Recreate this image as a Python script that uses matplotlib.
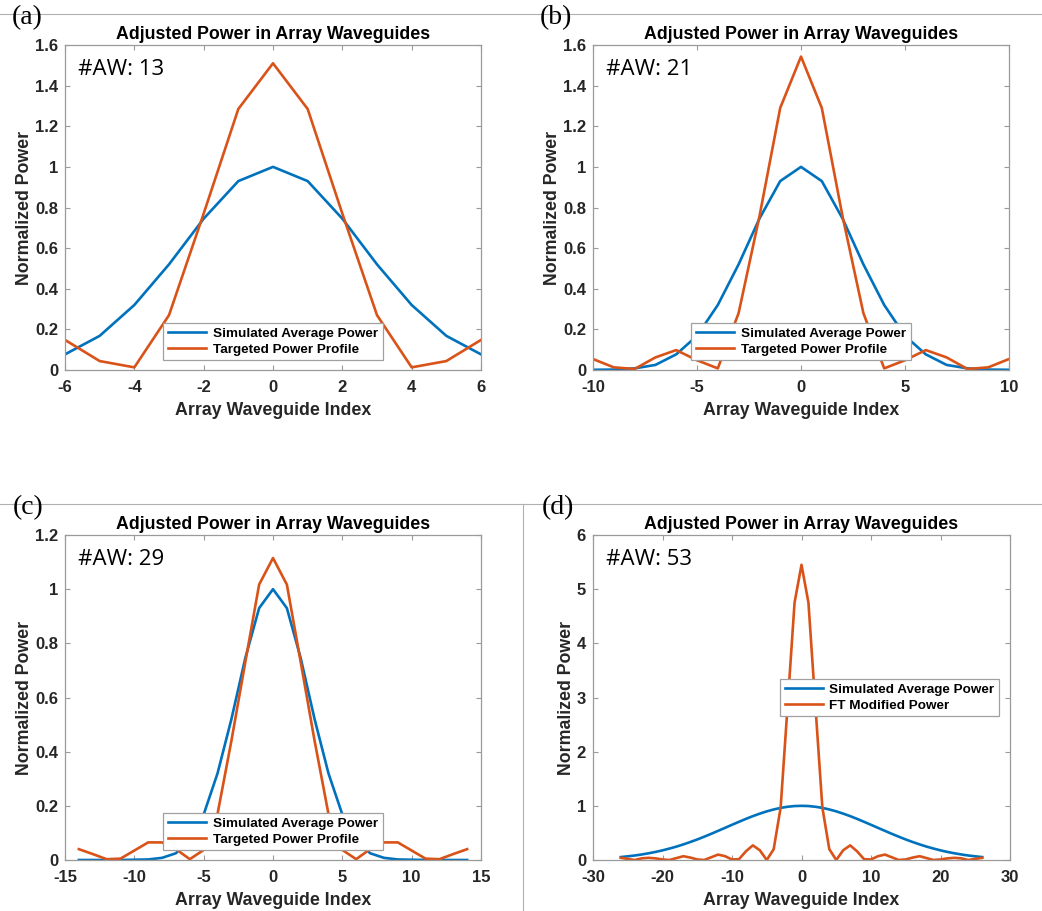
import matplotlib
matplotlib.use("Agg")
import matplotlib.pyplot as plt
from matplotlib.lines import Line2D
from matplotlib.ticker import FuncFormatter

plt.rcParams['font.family'] = ['Liberation Sans', 'DejaVu Sans']
plt.rcParams['axes.unicode_minus'] = False

# ---------------- data ----------------
# (a) 13 waveguides
idx_a = list(range(-6, 7))
sim_a = [0.077, 0.168, 0.32, 0.52, 0.745, 0.93, 1.0, 0.93, 0.745, 0.52, 0.32, 0.168, 0.077]
tgt_a = [0.148, 0.044, 0.013, 0.27, 0.77, 1.285, 1.51, 1.285, 0.77, 0.27, 0.013, 0.044, 0.148]

# (b) 21 waveguides
idx_b = list(range(-10, 11))
sim_b = [0.001, 0.002, 0.008, 0.025, 0.077, 0.168, 0.32, 0.52, 0.745, 0.93, 1.0,
         0.93, 0.745, 0.52, 0.32, 0.168, 0.077, 0.025, 0.008, 0.002, 0.001]
tgt_b = [0.054, 0.013, 0.005, 0.062, 0.098, 0.048, 0.008, 0.28, 0.755, 1.29, 1.543,
         1.29, 0.755, 0.28, 0.008, 0.048, 0.098, 0.062, 0.005, 0.013, 0.054]

# (c) 29 waveguides
idx_c = list(range(-14, 15))
sim_c = [0.0, 0.0, 0.0, 0.0, 0.001, 0.002, 0.008, 0.025, 0.077, 0.168, 0.32, 0.52, 0.745, 0.93, 1.0,
         0.93, 0.745, 0.52, 0.32, 0.168, 0.077, 0.025, 0.008, 0.002, 0.001, 0.0, 0.0, 0.0, 0.0]
tgt_c = [0.04, 0.022, 0.003, 0.005, 0.035, 0.065, 0.065, 0.04, 0.003, 0.037, 0.17, 0.44, 0.73, 1.017, 1.115,
         1.017, 0.73, 0.44, 0.17, 0.037, 0.003, 0.04, 0.065, 0.065, 0.035, 0.005, 0.003, 0.022, 0.04]

# (d) 53 waveguides
idx_d = list(range(-26, 27))
sim_d = [0.054, 0.068, 0.083, 0.102, 0.124, 0.149, 0.178, 0.211, 0.247, 0.288, 0.332, 0.379, 0.43,
         0.483, 0.538, 0.594, 0.65, 0.705, 0.759, 0.81, 0.856, 0.898, 0.933, 0.962, 0.983, 0.996,
         1.0,
         0.996, 0.983, 0.962, 0.933, 0.898, 0.856, 0.81, 0.759, 0.705, 0.65, 0.594, 0.538, 0.483,
         0.43, 0.379, 0.332, 0.288, 0.247, 0.211, 0.178, 0.149, 0.124, 0.102, 0.083, 0.068, 0.054]
ft_d = [0.04, 0.02, 0.0, 0.03, 0.04, 0.03, 0.01, 0.0, 0.035, 0.07, 0.045, 0.01, 0.0,
        0.05, 0.1, 0.07, 0.01, 0.015, 0.16, 0.27, 0.18, 0.0, 0.2, 0.97, 2.85, 4.75,
        5.45,
        4.75, 2.85, 0.97, 0.2, 0.0, 0.18, 0.27, 0.16, 0.015, 0.01, 0.07, 0.1, 0.05,
        0.0, 0.01, 0.045, 0.07, 0.035, 0.0, 0.01, 0.03, 0.04, 0.03, 0.0, 0.02, 0.04]

panel_labels = ['(a)', '(b)', '(c)', '(d)']
aw_labels = ['#AW: 13', '#AW: 21', '#AW: 29', '#AW: 53']
title = 'Adjusted Power in Array Waveguides'
xlabel = 'Array Waveguide Index'
ylabel = 'Normalized Power'
leg_sim = 'Simulated Average Power'
leg_tgt = 'Targeted Power Profile'
leg_ft = 'FT Modified Power'

xlims = [(-6, 6), (-10, 10), (-15, 15), (-30, 30)]
xticks = [list(range(-6, 7, 2)), [-10, -5, 0, 5, 10], list(range(-15, 16, 5)), list(range(-30, 31, 10))]
ylims = [(0, 1.6), (0, 1.6), (0, 1.2), (0, 6)]
yticks = [[0, 0.2, 0.4, 0.6, 0.8, 1, 1.2, 1.4, 1.6], [0, 0.2, 0.4, 0.6, 0.8, 1, 1.2, 1.4, 1.6],
          [0, 0.2, 0.4, 0.6, 0.8, 1, 1.2], [0, 1, 2, 3, 4, 5, 6]]

BLUE = '#0072BD'
ORANGE = '#D95319'
TXT = '#262626'
SPINE = '#9a9a9a'

W, H = 1042, 911
fig = plt.figure(figsize=(W / 100, H / 100), dpi=100)

def px_axes(l, r, t, b):
    return [l / W, 1 - b / H, (r - l) / W, (b - t) / H]

rects = [px_axes(65, 481, 45, 370), px_axes(593, 1009, 45, 370),
         px_axes(65, 481, 535, 860), px_axes(593, 1010, 535, 860)]

series = [(idx_a, sim_a, tgt_a, leg_tgt), (idx_b, sim_b, tgt_b, leg_tgt),
          (idx_c, sim_c, tgt_c, leg_tgt), (idx_d, sim_d, ft_d, leg_ft)]

fmt = FuncFormatter(lambda v, p: ('%g' % round(v, 6)))

legkw = dict(prop={'weight': 'bold', 'size': 9.7}, handlelength=2.8,
             borderpad=0.35, labelspacing=0.25, handletextpad=0.5,
             fancybox=False, framealpha=1, edgecolor='#a0a0a0')

for i, rect in enumerate(rects):
    ax = fig.add_axes(rect)
    x, s, t, lab2 = series[i]
    ax.plot(x, s, color=BLUE, lw=1.9, label=leg_sim)
    ax.plot(x, t, color=ORANGE, lw=1.9, label=lab2)
    ax.set_xlim(*xlims[i])
    ax.set_ylim(*ylims[i])
    ax.set_xticks(xticks[i])
    ax.set_yticks(yticks[i])
    ax.xaxis.set_major_formatter(fmt)
    ax.yaxis.set_major_formatter(fmt)
    ax.tick_params(direction='in', length=3.5, width=0.8, color=SPINE, top=True, right=True,
                   labelsize=12, labelcolor=TXT)
    ax.tick_params(axis='x', pad=7.5)
    ax.tick_params(axis='y', pad=5)
    for lbl in ax.get_xticklabels() + ax.get_yticklabels():
        lbl.set_fontweight('bold')
    for sp in ax.spines.values():
        sp.set_color(SPINE)
        sp.set_linewidth(0.9)
    ax.set_title(title, fontsize=12.8, fontweight='bold', color='black', pad=4)
    ax.set_xlabel(xlabel, fontsize=12.8, fontweight='bold', color=TXT, labelpad=5)
    ax.set_ylabel(ylabel, fontsize=12.8, fontweight='bold', color=TXT, labelpad=1.5)
    ax.text(0.031, 0.925, aw_labels[i], transform=ax.transAxes, fontsize=16,
            family=['Open Sans', 'DejaVu Sans'], color='black', va='center', ha='left')
    if i < 3:
        leg = ax.legend(loc='lower center', bbox_to_anchor=(0.5, 0.009), **legkw)
    else:
        leg = ax.legend(loc='center right', bbox_to_anchor=(0.99, 0.5), **legkw)
    leg.get_frame().set_linewidth(0.9)

# panel letters
for lab, (px, py) in zip(panel_labels, [(12, 18), (540, 18), (13, 508), (542, 508)]):
    fig.text(px / W, 1 - py / H, lab, family=['Liberation Serif'], fontsize=20,
             va='center', ha='left')

# separator lines
fig.add_artist(Line2D([0, 1], [1 - 14 / H, 1 - 14 / H], color='#b0b0b0', lw=0.8))
fig.add_artist(Line2D([0, 1], [1 - 504 / H, 1 - 504 / H], color='#b0b0b0', lw=0.8))
fig.add_artist(Line2D([523 / W, 523 / W], [0, 1 - 504 / H], color='#b0b0b0', lw=0.8))

fig.savefig('out.png', dpi=100, facecolor='white')
